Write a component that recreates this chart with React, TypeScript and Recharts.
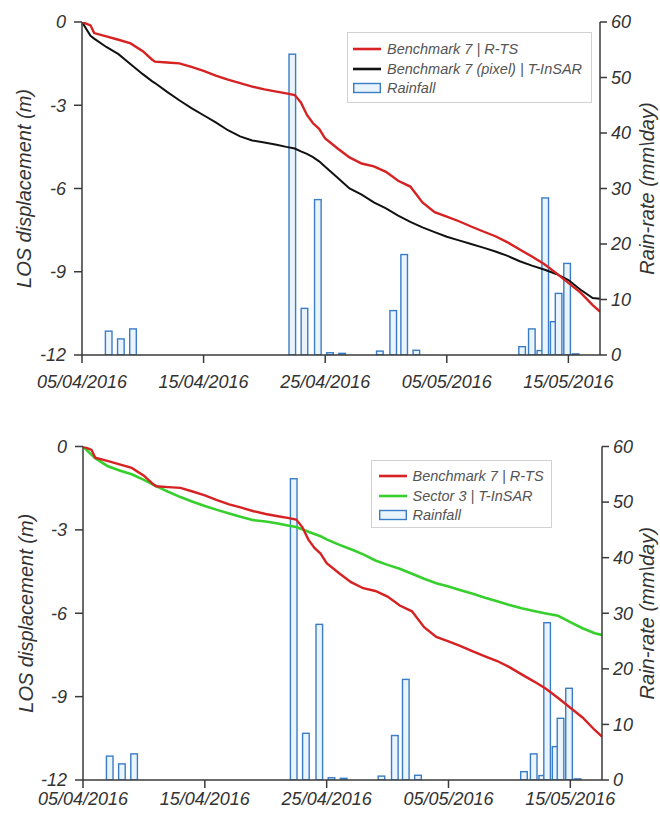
import React from 'react'
import { ComposedChart, Line, Bar, XAxis, YAxis, Legend } from 'recharts'

// ---------------------------------------------------------------------------
// Data (days counted from 05/04/2016)
// ---------------------------------------------------------------------------

const xTickDays = [0, 10, 20, 30, 40]
const xTickLabels = ['05/04/2016', '15/04/2016', '25/04/2016', '05/05/2016', '15/05/2016']
const dispTicks = [-12, -9, -6, -3, 0]
const rainTicks = [0, 10, 20, 30, 40, 50, 60]

const lineDays = [
  0, 0.7, 1, 2, 3, 4, 5, 5.75, 6, 7, 8, 9, 10, 11, 12, 13, 14, 15, 16, 16.8, 17.5, 18, 18.5, 19,
  19.5, 20, 21, 22, 23, 24, 25, 26, 27, 28, 29, 30, 31, 32, 33, 34, 35, 36, 37, 38, 39, 40, 41, 42,
  42.6,
]

// Benchmark 7 | R-TS (m)
const benchmarkRTS = [
  0, -0.12, -0.4, -0.52, -0.64, -0.77, -1.05, -1.35, -1.43, -1.46, -1.49, -1.62, -1.76, -1.93,
  -2.08, -2.2, -2.33, -2.43, -2.51, -2.57, -2.63, -2.9, -3.35, -3.65, -3.85, -4.2, -4.55, -4.88,
  -5.1, -5.2, -5.4, -5.72, -5.93, -6.5, -6.85, -7.01, -7.18, -7.37, -7.55, -7.72, -7.94, -8.2,
  -8.45, -8.72, -9.05, -9.4, -9.75, -10.2, -10.44,
]

// Benchmark 7 (pixel) | T-InSAR (m)
const benchmarkPixel = [
  0, -0.5, -0.6, -0.9, -1.16, -1.52, -1.88, -2.13, -2.2, -2.52, -2.82, -3.1, -3.36, -3.62, -3.9,
  -4.12, -4.27, -4.34, -4.42, -4.5, -4.56, -4.66, -4.75, -4.87, -5.02, -5.22, -5.6, -6.0, -6.22,
  -6.5, -6.72, -6.98, -7.2, -7.4, -7.57, -7.74, -7.87, -8.0, -8.13, -8.27, -8.43, -8.62, -8.78,
  -8.92, -9.08, -9.3, -9.65, -9.95, -9.97,
]

// Sector 3 | T-InSAR (m)
const sector3 = [
  0, -0.3, -0.42, -0.7, -0.86, -1.0, -1.2, -1.37, -1.42, -1.63, -1.82, -1.99, -2.14, -2.28, -2.41,
  -2.54, -2.65, -2.7, -2.77, -2.84, -2.9, -2.98, -3.07, -3.15, -3.23, -3.34, -3.53, -3.7, -3.88,
  -4.1, -4.26, -4.4, -4.58, -4.76, -4.92, -5.04, -5.17, -5.3, -5.44, -5.57, -5.7, -5.82, -5.92,
  -6.01, -6.09, -6.32, -6.54, -6.72, -6.78,
]

// Rainfall (mm/day)
const rainDays = [2.2, 3.2, 4.2, 17.3, 18.3, 19.4, 20.4, 21.4, 24.5, 25.6, 26.5, 27.5, 36.2, 37.0, 37.7, 38.1, 38.8, 39.2, 39.9, 40.6]
const rainMm = [4.3, 2.9, 4.7, 54.2, 8.4, 28.0, 0.4, 0.3, 0.7, 8.0, 18.1, 0.85, 1.5, 4.7, 0.8, 28.3, 6.0, 11.1, 16.5, 0.2]

type Row = { t: number; red?: number; black?: number; green?: number; rain?: number }

const rows: Row[] = [
  ...lineDays.map((t, i) => ({ t, red: benchmarkRTS[i], black: benchmarkPixel[i], green: sector3[i] })),
  ...rainDays.map((t, i) => ({ t, rain: rainMm[i] })),
].sort((a, b) => a.t - b.t)

// ---------------------------------------------------------------------------
// Styling
// ---------------------------------------------------------------------------

const FONT = "'Liberation Sans', Arial, sans-serif"
const AXIS = '#3a3a3a'
const RED = '#d62222'
const BLACK = '#111111'
const GREEN = '#36cf2c'
const BAR_STROKE = '#3b7cc6'
const BAR_FILL = '#eaf4fc'

const legendOrder: Record<string, number> = { red: 0, black: 1, green: 1, rain: 2 }

const tickStyle = { fill: '#333', fontSize: 18, fontFamily: FONT, fontStyle: 'italic' as const }

function RainBar(props: any) {
  const { x, y, width, height } = props
  if (!height || height <= 0) return null
  const cx = x + width / 2
  return (
    <rect x={cx - 3.3} y={y} width={6.6} height={height} fill={BAR_FILL} stroke={BAR_STROKE} strokeWidth={1.4} />
  )
}

function AxisTitle(props: any) {
  const { viewBox, text, dx } = props
  const cx = viewBox.x + dx
  const cy = viewBox.y + viewBox.height / 2
  return (
    <text
      x={cx}
      y={cy}
      transform={`rotate(-90 ${cx} ${cy})`}
      textAnchor="middle"
      dominantBaseline="central"
      style={{ fontFamily: FONT, fontStyle: 'italic', fontSize: 20, fill: '#333' }}
    >
      {text}
    </text>
  )
}

function LegendBox(props: any) {
  const { payload = [], width, height, padTop, padLeft } = props
  const items = [...payload].sort(
    (a: any, b: any) => (legendOrder[a.dataKey] ?? 0) - (legendOrder[b.dataKey] ?? 0),
  )
  return (
    <div
      style={{
        width,
        height,
        boxSizing: 'border-box',
        border: '1px solid #d2d2d2',
        background: '#fff',
        paddingTop: padTop,
        paddingLeft: padLeft,
        fontFamily: FONT,
      }}
    >
      {items.map((it: any) => (
        <div key={it.value} style={{ display: 'flex', alignItems: 'center', height: 19.4 }}>
          <svg width={28} height={12} style={{ marginRight: 6, flex: 'none' }}>
            {it.dataKey === 'rain' ? (
              <rect x={0.7} y={1.5} width={26.6} height={9} fill={BAR_FILL} stroke={BAR_STROKE} strokeWidth={1.4} />
            ) : (
              <line x1={0} x2={28} y1={6} y2={6} stroke={it.color} strokeWidth={2.6} />
            )}
          </svg>
          <span style={{ fontSize: 14.5, fontStyle: 'italic', color: '#555', whiteSpace: 'nowrap' }}>{it.value}</span>
        </div>
      ))}
    </div>
  )
}

// ---------------------------------------------------------------------------
// One panel
// ---------------------------------------------------------------------------

interface PanelProps {
  height: number
  margin: { top: number; right: number; bottom: number; left: number }
  second: 'black' | 'green'
  legend: { left: number; top: number; width: number; height: number; padTop: number; padLeft: number }
  xTickMargin: number
  leftTitleDx: number
  rightTitleDx: number
}

function Panel({ height, margin, second, legend, xTickMargin, leftTitleDx, rightTitleDx }: PanelProps) {
  return (
    <ComposedChart width={660} height={height} data={rows} margin={margin}>
      <XAxis
        type="number"
        dataKey="t"
        domain={[0, 42.6]}
        allowDataOverflow
        ticks={xTickDays}
        tickFormatter={(v: number) => xTickLabels[xTickDays.indexOf(v)]}
        tick={tickStyle}
        height={30}
        tickSize={8}
        tickMargin={xTickMargin}
        stroke={AXIS}
        strokeWidth={1.5}
        interval={0}
      />
      <YAxis
        yAxisId="disp"
        domain={[-12, 0]}
        ticks={dispTicks}
        allowDataOverflow
        width={60}
        tick={tickStyle}
        tickSize={8}
        tickMargin={8}
        stroke={AXIS}
        strokeWidth={1.5}
        interval={0}
        label={<AxisTitle text="LOS displacement (m)" dx={leftTitleDx} />}
      />
      <YAxis
        yAxisId="rain"
        orientation="right"
        domain={[0, 60]}
        ticks={rainTicks}
        allowDataOverflow
        width={45}
        tick={tickStyle}
        tickSize={7}
        tickMargin={4}
        stroke={AXIS}
        strokeWidth={1.5}
        interval={0}
        label={<AxisTitle text="Rain-rate (mm\day)" dx={rightTitleDx} />}
      />
      <Bar
        yAxisId="rain"
        dataKey="rain"
        name="Rainfall"
        barSize={7}
        fill={BAR_FILL}
        shape={<RainBar />}
        isAnimationActive={false}
      />
      {second === 'black' ? (
        <Line
          yAxisId="disp"
          dataKey="black"
          name="Benchmark 7 (pixel) | T-InSAR"
          stroke={BLACK}
          strokeWidth={2}
          dot={false}
          connectNulls
          isAnimationActive={false}
        />
      ) : (
        <Line
          yAxisId="disp"
          dataKey="green"
          name="Sector 3 | T-InSAR"
          stroke={GREEN}
          strokeWidth={2.6}
          dot={false}
          connectNulls
          isAnimationActive={false}
        />
      )}
      <Line
        yAxisId="disp"
        dataKey="red"
        name="Benchmark 7 | R-TS"
        stroke={RED}
        strokeWidth={2.4}
        dot={false}
        connectNulls
        isAnimationActive={false}
      />
      <Legend
        layout="vertical"
        align="center"
        verticalAlign="middle"
        wrapperStyle={{ left: legend.left, top: legend.top, width: legend.width, height: legend.height }}
        content={(p: any) => (
          <LegendBox
            payload={p.payload}
            width={legend.width}
            height={legend.height}
            padTop={legend.padTop}
            padLeft={legend.padLeft}
          />
        )}
      />
    </ComposedChart>
  )
}

export default function App() {
  return (
    <div style={{ position: 'absolute', left: 0, top: 0, width: 660, height: 815, background: '#fff' }}>
      <div style={{ position: 'absolute', left: 0, top: 0 }}>
        <Panel
          height={400}
          margin={{ top: 22, right: 15, bottom: 15, left: 22 }}
          second="black"
          legend={{ left: 347, top: 32, width: 245, height: 71, padTop: 6.5, padLeft: 5 }}
          xTickMargin={12}
          leftTitleDx={2}
          rightTitleDx={47}
        />
      </div>
      <div style={{ position: 'absolute', left: 0, top: 400 }}>
        <Panel
          height={415}
          margin={{ top: 46.5, right: 13, bottom: 5, left: 23 }}
          second="green"
          legend={{ left: 371, top: 60, width: 181, height: 68, padTop: 5.5, padLeft: 6.5 }}
          xTickMargin={4}
          leftTitleDx={2.5}
          rightTitleDx={45}
        />
      </div>
    </div>
  )
}
